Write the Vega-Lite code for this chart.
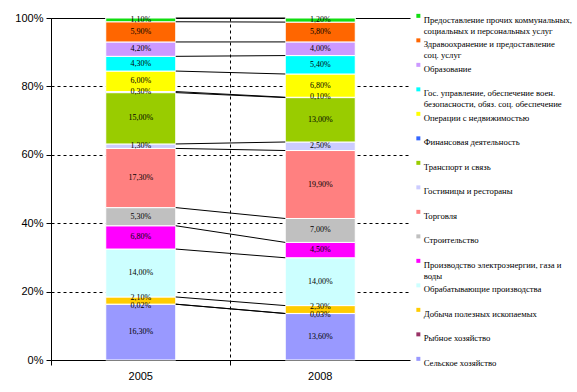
{
  "$schema": "https://vega.github.io/schema/vega-lite/v6.json",
  "width": 359,
  "height": 342,
  "autosize": {"type": "none"},
  "padding": {"left": 51, "top": 18, "right": 167, "bottom": 32},
  "background": "white",
  "config": {
    "view": {"stroke": null},
    "locale": {"number": {"decimal": ",", "thousands": " ", "grouping": [3], "currency": ["", ""]}}
  },
  "data": {
    "values": [
      {"year": "2005", "cat": "Сельское хозяйство", "rank": 1, "value": 0.163},
      {"year": "2005", "cat": "Рыбное хозяйство", "rank": 2, "value": 0.0002},
      {"year": "2005", "cat": "Добыча полезных ископаемых", "rank": 3, "value": 0.021},
      {"year": "2005", "cat": "Обрабатывающие производства", "rank": 4, "value": 0.14},
      {"year": "2005", "cat": "Производство электроэнергии, газа и воды", "rank": 5, "value": 0.068},
      {"year": "2005", "cat": "Строительство", "rank": 6, "value": 0.053},
      {"year": "2005", "cat": "Торговля", "rank": 7, "value": 0.173},
      {"year": "2005", "cat": "Гостиницы и рестораны", "rank": 8, "value": 0.013},
      {"year": "2005", "cat": "Транспорт и связь", "rank": 9, "value": 0.15},
      {"year": "2005", "cat": "Финансовая деятельность", "rank": 10, "value": 0.003},
      {"year": "2005", "cat": "Операции с недвижимостью", "rank": 11, "value": 0.06},
      {"year": "2005", "cat": "Гос. управление, обеспечение воен. безопасности, обяз. соц. обеспечение", "rank": 12, "value": 0.043},
      {"year": "2005", "cat": "Образование", "rank": 13, "value": 0.042},
      {"year": "2005", "cat": "Здравоохранение и предоставление соц. услуг", "rank": 14, "value": 0.059},
      {"year": "2005", "cat": "Предоставление прочих коммунальных, социальных и персональных услуг", "rank": 15, "value": 0.011},
      {"year": "2008", "cat": "Сельское хозяйство", "rank": 1, "value": 0.136},
      {"year": "2008", "cat": "Рыбное хозяйство", "rank": 2, "value": 0.0003},
      {"year": "2008", "cat": "Добыча полезных ископаемых", "rank": 3, "value": 0.023},
      {"year": "2008", "cat": "Обрабатывающие производства", "rank": 4, "value": 0.14},
      {"year": "2008", "cat": "Производство электроэнергии, газа и воды", "rank": 5, "value": 0.045},
      {"year": "2008", "cat": "Строительство", "rank": 6, "value": 0.07},
      {"year": "2008", "cat": "Торговля", "rank": 7, "value": 0.199},
      {"year": "2008", "cat": "Гостиницы и рестораны", "rank": 8, "value": 0.025},
      {"year": "2008", "cat": "Транспорт и связь", "rank": 9, "value": 0.13},
      {"year": "2008", "cat": "Финансовая деятельность", "rank": 10, "value": 0.001},
      {"year": "2008", "cat": "Операции с недвижимостью", "rank": 11, "value": 0.068},
      {"year": "2008", "cat": "Гос. управление, обеспечение воен. безопасности, обяз. соц. обеспечение", "rank": 12, "value": 0.054},
      {"year": "2008", "cat": "Образование", "rank": 13, "value": 0.04},
      {"year": "2008", "cat": "Здравоохранение и предоставление соц. услуг", "rank": 14, "value": 0.058},
      {"year": "2008", "cat": "Предоставление прочих коммунальных, социальных и персональных услуг", "rank": 15, "value": 0.012}
    ]
  },
  "layer": [
    {
      "mark": {"type": "bar", "width": {"band": 0.39}, "stroke": "white", "strokeWidth": 1},
      "encoding": {
        "x": {
          "field": "year", "type": "nominal",
          "scale": {"paddingInner": 0, "paddingOuter": 0},
          "axis": {
            "title": null, "labelAngle": 0, "bandPosition": 0,
            "labelFont": "Liberation Sans", "labelFontSize": 11, "labelColor": "black",
            "labelPadding": 5, "tickSize": 5, "tickColor": "black", "domainColor": "black",
            "grid": true, "gridColor": "black", "gridDash": [3, 3], "gridOpacity": 1
          }
        },
        "y": {
          "field": "value", "type": "quantitative", "stack": "normalize",
          "scale": {"domain": [0, 1], "nice": false},
          "axis": {
            "title": null, "format": ".0%", "values": [0, 0.1, 0.2, 0.3, 0.4, 0.5, 0.6, 0.7, 0.8, 0.9, 1],
            "labelFont": "Liberation Sans", "labelFontSize": 11, "labelColor": "black",
            "labelPadding": 3, "tickSize": 5, "tickColor": "black", "domainColor": "black",
            "grid": true, "gridColor": "black", "gridOpacity": 1,
            "gridDash": {"condition": {"test": "datum.value >= 1", "value": []}, "value": [3, 3]}
          }
        },
        "order": {"field": "rank", "type": "quantitative"},
        "color": {
          "field": "cat", "type": "nominal",
          "scale": {
            "domain": [
              "Предоставление прочих коммунальных, социальных и персональных услуг",
              "Здравоохранение и предоставление соц. услуг",
              "Образование",
              "Гос. управление, обеспечение воен. безопасности, обяз. соц. обеспечение",
              "Операции с недвижимостью",
              "Финансовая деятельность",
              "Транспорт и связь",
              "Гостиницы и рестораны",
              "Торговля",
              "Строительство",
              "Производство электроэнергии, газа и воды",
              "Обрабатывающие производства",
              "Добыча полезных ископаемых",
              "Рыбное хозяйство",
              "Сельское хозяйство"
            ],
            "range": ["#11DD11", "#FF6600", "#CC99FF", "#00FFFF", "#FFFF00", "#3366FF", "#99CC00", "#CCCCFF", "#FF8080", "#C0C0C0", "#FF00FF", "#CCFFFF", "#FFCC00", "#993366", "#9999FF"]
          },
          "legend": {
            "title": null, "orient": "none", "legendX": 363, "legendY": -6.5,
            "padding": 0, "symbolType": "square", "symbolSize": 16, "symbolStrokeWidth": 0,
            "labelFont": "Liberation Serif", "labelFontSize": 8.7, "labelColor": "black",
            "labelOffset": 1, "labelLimit": 220, "labelBaseline": "top",
            "gridAlign": "all", "rowPadding": 0.5,
            "labelExpr": "datum.label == 'Предоставление прочих коммунальных, социальных и персональных услуг' ? ['Предоставление прочих коммунальных,', 'социальных и персональных услуг'] : datum.label == 'Здравоохранение и предоставление соц. услуг' ? ['Здравоохранение и предоставление', 'соц. услуг'] : datum.label == 'Гос. управление, обеспечение воен. безопасности, обяз. соц. обеспечение' ? ['Гос. управление, обеспечение воен.', 'безопасности, обяз. соц. обеспечение'] : datum.label == 'Производство электроэнергии, газа и воды' ? ['Производство электроэнергии, газа и', 'воды'] : datum.label",
            "encode": {
              "labels": {"update": {"dy": {"value": -4.5}, "lineHeight": {"value": 12}}},
              "symbols": {"update": {
                "size": {"signal": "indexof(['Финансовая деятельность', 'Рыбное хозяйство'], datum.value) >= 0 ? 30 : 16"},
                "stroke": {"signal": "indexof(['Финансовая деятельность', 'Рыбное хозяйство'], datum.value) >= 0 ? 'black' : 'transparent'"},
                "strokeWidth": {"value": 1}
              }}
            }
          }
        }
      }
    },
    {
      "transform": [
        {"stack": "value", "groupby": ["year"], "sort": [{"field": "rank", "order": "ascending"}], "offset": "normalize", "as": ["v0", "v1"]},
        {"pivot": "year", "value": "v1", "groupby": ["cat"]}
      ],
      "mark": {"type": "rule", "color": "black", "strokeWidth": 1, "xOffset": 35, "x2Offset": -35},
      "encoding": {
        "x": {"datum": "2005", "type": "nominal"},
        "x2": {"datum": "2008"},
        "y": {"field": "2005", "type": "quantitative"},
        "y2": {"field": "2008"}
      }
    },
    {
      "mark": {"type": "text", "font": "Liberation Serif", "fontSize": 8, "color": "black"},
      "encoding": {
        "x": {"field": "year", "type": "nominal"},
        "y": {"field": "value", "type": "quantitative", "stack": "normalize", "bandPosition": 0.5},
        "order": {"field": "rank", "type": "quantitative"},
        "text": {"condition": {"test": "datum.rank != 2 && datum.rank != 3", "field": "value", "type": "quantitative", "format": ".2%"}, "value": ""}
      }
    },
    {
      "mark": {"type": "text", "font": "Liberation Serif", "fontSize": 8, "color": "black", "dy": -3},
      "encoding": {
        "x": {"field": "year", "type": "nominal"},
        "y": {"field": "value", "type": "quantitative", "stack": "normalize", "bandPosition": 0.5},
        "order": {"field": "rank", "type": "quantitative"},
        "text": {"condition": {"test": "datum.rank == 3", "field": "value", "type": "quantitative", "format": ".2%"}, "value": ""}
      }
    },
    {
      "mark": {"type": "text", "font": "Liberation Serif", "fontSize": 8, "color": "black", "dy": 2},
      "encoding": {
        "x": {"field": "year", "type": "nominal"},
        "y": {"field": "value", "type": "quantitative", "stack": "normalize", "bandPosition": 0.5},
        "order": {"field": "rank", "type": "quantitative"},
        "text": {"condition": {"test": "datum.rank == 2", "field": "value", "type": "quantitative", "format": ".2%"}, "value": ""}
      }
    }
  ]
}
